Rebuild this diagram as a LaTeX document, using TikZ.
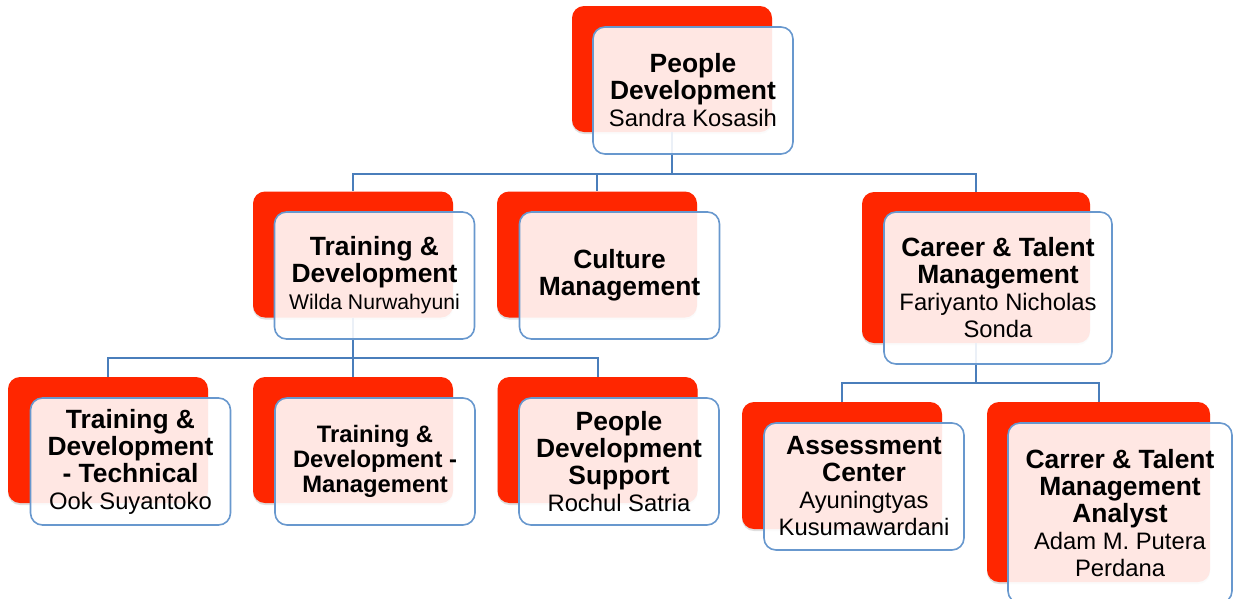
\documentclass[tikz,border=0pt]{standalone}
\usepackage{fontspec}
\setmainfont{Liberation Sans}
\usetikzlibrary{shadows}
\definecolor{unitred}{RGB}{255,38,0}
\definecolor{unitblue}{RGB}{104,152,206}
\definecolor{linkblue}{RGB}{74,126,187}
\newcommand{\hd}[1]{{\fontsize{26.4}{27}\selectfont\bfseries #1}}

\begin{document}
\begin{tikzpicture}[x=1pt,y=-1pt,
    redbox/.style={fill=unitred, rounded corners=12pt, inner sep=0pt,
      minimum width=200pt, minimum height=126pt,
      drop shadow={shadow xshift=0pt, shadow yshift=-2pt, opacity=0.25}},
    unitbox/.style={draw=unitblue, line width=1.6pt, fill=white, fill opacity=0.89,
      text opacity=1, rounded corners=12pt, inner sep=0pt, align=center,
      minimum width=200pt, minimum height=127pt, font=\fontsize{23.8}{27}\selectfont},
    link/.style={draw=linkblue, line width=2pt}]
                \fill[white] (0,0) rectangle (1237,598);
                \useasboundingbox (0,0) rectangle (1237,598);

                \node[redbox] (pdr) at (672,69) {};
                \node[redbox] (tdr) at (353,254.5) {};
                \node[redbox] (cmr) at (597,254.5) {};
                \node[redbox,minimum width=228pt,minimum height=151pt] (ctr) at (976,267.5) {};
                \node[redbox] (tdtr) at (108,440) {};
                \node[redbox] (tdmr) at (353,440) {};
                \node[redbox] (pdsr) at (597.5,440) {};
                \node[redbox,minimum height=127pt] (acr) at (842,465.5) {};
                \node[redbox,minimum width=223pt,minimum height=180pt] (ctar) at (1098.5,492) {};

                \draw[link] (pdr.south) -- ++(0,42) -| (tdr.north); \draw[link] (pdr.south) -- ++(0,42) -| (cmr.north); \draw[link] (pdr.south) -- ++(0,42) -| (ctr.north);
                \draw[link] (tdr.south) -- ++(0,40) -| (tdtr.north); \draw[link] (tdr.south) -- ++(0,40) -| (tdmr.north); \draw[link] (tdr.south) -- ++(0,40) -| (pdsr.north);
                \draw[link] (ctr.south) -- ++(0,40) -| (acr.north); \draw[link] (ctr.south) -- ++(0,40) -| (ctar.north);

                \node[unitbox] (pd) at (693,90.5) {\hd{People}\\\hd{Development}\\Sandra Kosasih};
                \node[unitbox] (td) at (374.5,275.5) {\hd{Training \&}\\\hd{Development}\\{\fontsize{21.2}{27}\selectfont Wilda Nurwahyuni}};
                \node[unitbox] (cm) at (619.5,275.5) {\hd{Culture}\\\hd{Management}};
                \node[unitbox,minimum width=228pt,minimum height=152pt] (ct) at (998,288) {\hd{Career \& Talent}\\\hd{Management}\\Fariyanto Nicholas\\Sonda};
                \node[unitbox] (tdt) at (130.5,461.5) {\hd{Training \&}\\\hd{Development}\\\hd{- Technical}\\Ook Suyantoko};
                \node[unitbox,font=\fontsize{23.8}{25}\selectfont\bfseries] (tdm) at (375,461.5) {Training \&\\Development -\\Management};
                \node[unitbox] (pds) at (619,461.5) {\hd{People}\\\hd{Development}\\\hd{Support}\\Rochul Satria};
                \node[unitbox] (ac) at (864,486.5) {\hd{Assessment}\\\hd{Center}\\Ayuningtyas\\Kusumawardani};
                \node[unitbox,minimum width=224pt,minimum height=180pt] (cta) at (1120,513) {\hd{Carrer \& Talent}\\\hd{Management}\\\hd{Analyst}\\Adam M. Putera\\Perdana};
            \end{tikzpicture}
\end{document}
